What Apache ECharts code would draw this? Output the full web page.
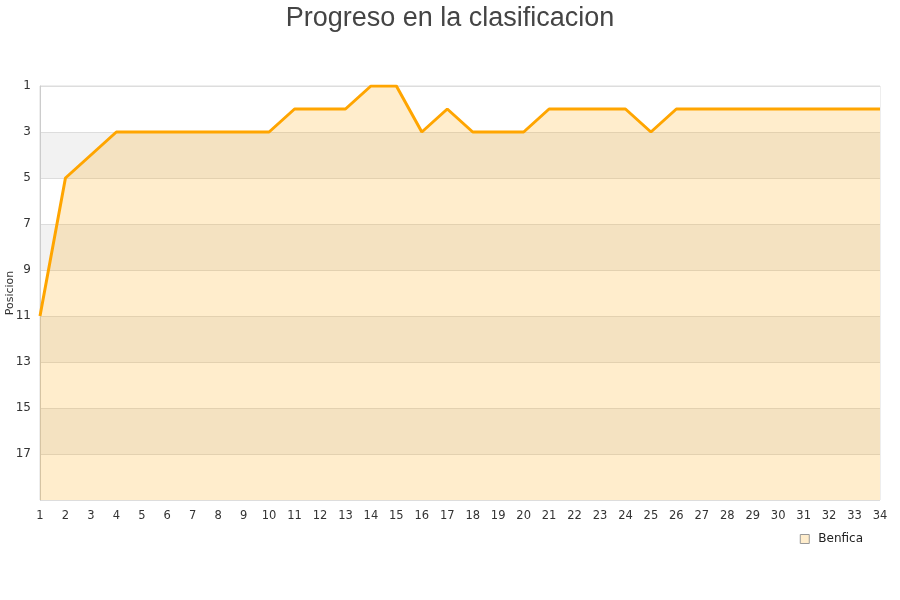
<!DOCTYPE html>
<html><head><meta charset="utf-8">
<script src="https://cdn.jsdelivr.net/npm/echarts@6/dist/echarts.min.js"></script>
<style>html,body{margin:0;padding:0;background:#fff}#c{width:900px;height:600px}</style>
</head><body><div id="c"></div>
<script>
var jornadas = ['1','2','3','4','5','6','7','8','9','10','11','12','13','14','15','16','17','18','19','20','21','22','23','24','25','26','27','28','29','30','31','32','33','34'];
var posiciones = [11,5,4,3,3,3,3,3,3,3,2,2,2,1,1,3,2,3,3,3,2,2,2,2,3,2,2,2,2,2,2,2,2,2];
var yTicks = [1,3,5,7,9,11,13,15,17];
var chart = echarts.init(document.getElementById('c'));
chart.setOption({
  animation: false,
  title: {text: 'Progreso en la clasificacion', left: 'center', top: 0,
    textStyle: {fontFamily: 'Liberation Sans', fontSize: 27, fontWeight: 'normal', color: '#444'}},
  legend: {data: [{name: 'Benfica', icon: 'rect', itemStyle: {color: '#ffedcc', borderColor: '#999', borderWidth: 1}}],
    right: 32, top: 528, itemWidth: 9, itemHeight: 9, itemGap: 8,
    textStyle: {fontFamily: 'DejaVu Sans', fontSize: 12, color: '#222', padding: [0, 0, 0, 4]}},
  grid: {left: 40, right: 20, top: 86, bottom: 100, containLabel: false, outerBoundsMode: 'none',
    show: true, borderColor: '#ddd', borderWidth: 1, backgroundColor: 'transparent'},
  xAxis: {type: 'category', data: jornadas, boundaryGap: false,
    axisLine: {show: false}, axisTick: {show: false},
    axisLabel: {fontFamily: 'DejaVu Sans', fontSize: 11.5, color: '#333', margin: 10, interval: 0},
    splitLine: {show: false}},
  yAxis: {type: 'value', inverse: true, min: 1, max: 19, interval: 2,
    name: 'Posicion', nameLocation: 'middle', nameGap: 24, nameRotate: 90, nameMoveOverlap: false,
    nameTextStyle: {fontFamily: 'DejaVu Sans', fontSize: 11, color: '#333'},
    axisLine: {show: true, lineStyle: {color: '#ccc'}}, axisTick: {show: false},
    axisLabel: {fontFamily: 'DejaVu Sans', fontSize: 12, color: '#333', margin: 9,
      formatter: function(v){ return v >= 19 ? '' : String(v); }},
    splitLine: {show: true, lineStyle: {color: '#ddd'}},
    splitArea: {show: true, areaStyle: {color: ['#ffffff', '#f2f2f2']}}},
  series: [{name: 'Benfica', type: 'line', data: posiciones, symbol: 'none',
    lineStyle: {color: '#ffa500', width: 3},
    itemStyle: {color: '#ffedcc'},
    areaStyle: {color: 'rgba(255,165,0,0.2)', opacity: 1, origin: 'end'}}]
});
</script></body></html>
